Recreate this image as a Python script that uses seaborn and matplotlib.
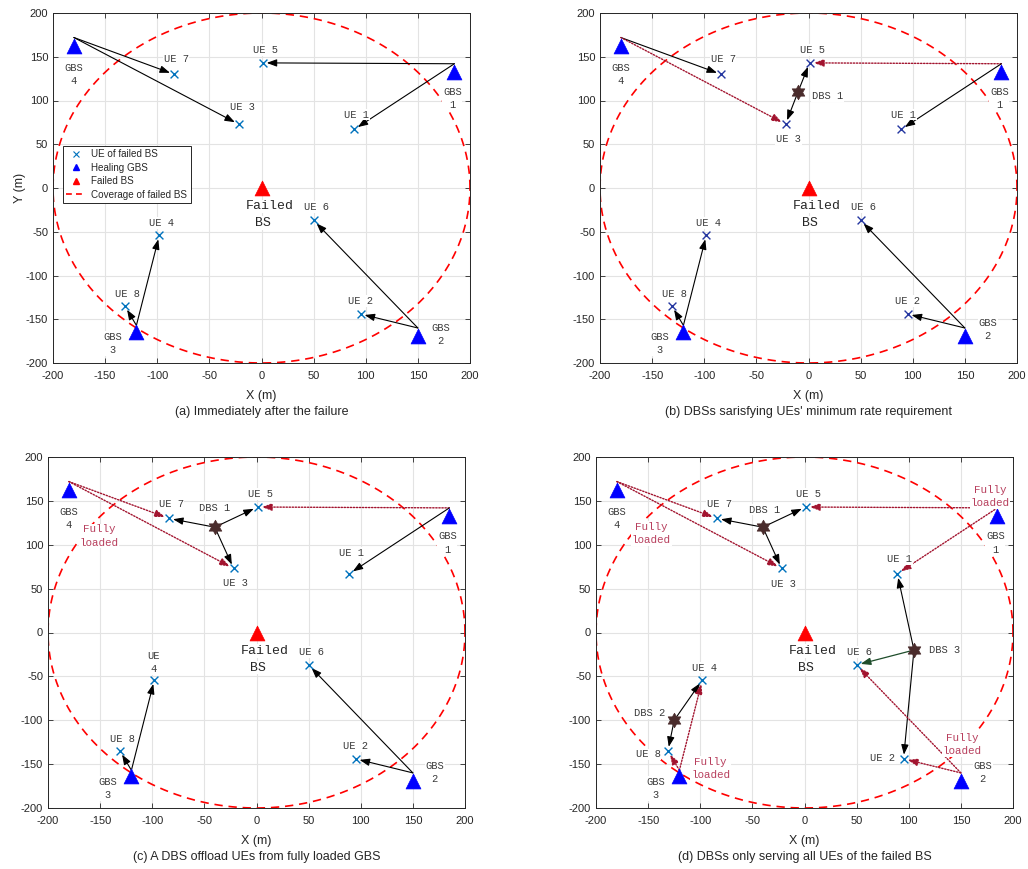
import numpy as np
import pandas as pd
import matplotlib
matplotlib.use("Agg")
import matplotlib.pyplot as plt
from matplotlib.path import Path
from matplotlib.lines import Line2D
import seaborn as sns

# ---------------- network layout (metres) ----------------
ue_names = ["UE 1", "UE 2", "UE 3", "UE 4", "UE 5", "UE 6", "UE 7", "UE 8"]
ue_x = [89, 95, -22, -98, 1, 50, -84, -131]
ue_y = [67, -144, 73, -54, 143, -37, 130, -135]

gbs_names = ["GBS 1", "GBS 2", "GBS 3", "GBS 4"]
gbs_x = [185, 150, -120, -180]
gbs_y = [133, -169, -164, 162]
# antenna points that the GBS links leave from
gbs_feed_x = [185, 150, -120, -180]
gbs_feed_y = [142, -160, -157, 172]

failed_bs_x = [0]
failed_bs_y = [0]
coverage_radius = 200

dbs_names = ["DBS 1", "DBS 2", "DBS 3"]
# DBS placement when only rate requirements are served (panel b)
dbs_x_rate = [-10]
dbs_y_rate = [110]
# DBS placement after offloading (panels c and d)
dbs_x_offload = [-40, -125, 105]
dbs_y_offload = [120, -100, -20]

# links: (source, target, kind)  kind: s = serving, d = overloaded GBS, g = DBS link
links_a = [("GBS 4", "UE 7", "s"), ("GBS 4", "UE 3", "s"), ("GBS 1", "UE 5", "s"),
           ("GBS 1", "UE 1", "s"), ("GBS 2", "UE 6", "s"), ("GBS 2", "UE 2", "s"),
           ("GBS 3", "UE 4", "s"), ("GBS 3", "UE 8", "s")]
links_b = [("GBS 4", "UE 7", "s"), ("GBS 4", "UE 3", "d"), ("GBS 1", "UE 5", "d"),
           ("GBS 1", "UE 1", "s"), ("DBS 1", "UE 5", "s"), ("DBS 1", "UE 3", "s"),
           ("GBS 2", "UE 6", "s"), ("GBS 2", "UE 2", "s"),
           ("GBS 3", "UE 4", "s"), ("GBS 3", "UE 8", "s")]
links_c = [("GBS 4", "UE 7", "d"), ("GBS 4", "UE 3", "d"), ("GBS 1", "UE 5", "d"),
           ("GBS 1", "UE 1", "s"), ("DBS 1", "UE 7", "s"), ("DBS 1", "UE 5", "s"),
           ("DBS 1", "UE 3", "s"), ("GBS 2", "UE 6", "s"), ("GBS 2", "UE 2", "s"),
           ("GBS 3", "UE 4", "s"), ("GBS 3", "UE 8", "s")]
links_d = [("GBS 4", "UE 7", "d"), ("GBS 4", "UE 3", "d"), ("GBS 1", "UE 5", "d"),
           ("GBS 1", "UE 1", "d"), ("DBS 1", "UE 7", "s"), ("DBS 1", "UE 5", "s"),
           ("DBS 1", "UE 3", "s"), ("DBS 3", "UE 1", "s"), ("DBS 3", "UE 6", "g"),
           ("DBS 3", "UE 2", "s"), ("GBS 2", "UE 6", "d"), ("GBS 2", "UE 2", "d"),
           ("DBS 2", "UE 4", "s"), ("DBS 2", "UE 8", "s"),
           ("GBS 3", "UE 4", "d"), ("GBS 3", "UE 8", "d")]

captions = ["(a) Immediately after the failure",
            "(b) DBSs sarisfying UEs' minimum rate requirement",
            "(c) A DBS offload UEs from fully loaded GBS",
            "(d) DBSs only serving all UEs of the failed BS"]

fully_loaded_c = ["GBS 4"]
fully_loaded_d = ["GBS 4", "GBS 1", "GBS 2", "GBS 3"]

legend_labels = ["UE of failed BS", "Healing GBS", "Failed BS", "Coverage of failed BS"]

# ---------------- annotation placement ----------------
label_pos = {
    "UE 1": (91, 84), "UE 2": (95, -129), "UE 3": (-18, 92), "UE 4": (-96, -40),
    "UE 5": (4, 158), "UE 6": (53, -22), "UE 7": (-82, 147), "UE 8": (-129, -121),
    "GBS 1": (183, 102), "GBS 2": (172, -162), "GBS 3": (-143, -178), "GBS 4": (-180, 130),
}
label_override = [
    {"GBS 2": (172, -167)},
    {"UE 3": (-19, 56), "DBS 1": (18, 105)},
    {"UE 3": (-20, 56), "UE 1": (91, 91), "UE 4": (-99, -34), "DBS 1": (-40, 142),
     "GBS 2": (171, -160)},
    {"UE 3": (-20, 55), "UE 8": (-150, -139), "UE 2": (75, -143), "DBS 1": (-38, 140),
     "DBS 2": (-149, -92), "DBS 3": (134, -20), "GBS 2": (171, -160)},
]
label_text_override = [{}, {}, {"UE 4": "UE\n4"}, {}]
fully_pos = {"c": {"GBS 4": (-151, 110)},
             "d": {"GBS 4": (-147, 113), "GBS 1": (178, 155),
                   "GBS 2": (151, -128), "GBS 3": (-90, -155)}}

# ---------------- style ----------------
sns.set_theme(style="ticks")
plt.rcParams["font.family"] = ["Liberation Sans", "DejaVu Sans"]
plt.rcParams["axes.unicode_minus"] = False

UE_BLUE = "#0072BD"
UE_NAVY = "#2436A0"
LINK_RED = "#A2142F"
LINK_GREEN = "#1E4D2B"
DBS_BROWN = "#4A2C2C"
FULL_RED = "#B8405E"
TEXT_GREY = "#3A3A3A"
AX_GREY = "#262626"
MONO = ["Liberation Mono", "DejaVu Sans Mono"]

ang = np.pi / 2 + np.arange(12) * np.pi / 6
rad = np.where(np.arange(12) % 2 == 0, 1.0, 1 / np.sqrt(3))
star_verts = np.column_stack([rad * np.cos(ang), rad * np.sin(ang)])
hexagram = Path(np.vstack([star_verts, star_verts[:1]]), closed=True)

fig = plt.figure(figsize=(10.28, 8.69), dpi=100)
W, H = 1028, 869
boxes = [(53, 13, 470, 363), (600, 13, 1017, 363), (48, 457, 465, 808), (596, 457, 1013, 808)]
axes = [fig.add_axes([l / W, 1 - b / H, (r - l) / W, (b - t) / H]) for (l, t, r, b) in boxes]

panel_links = [links_a, links_b, links_c, links_d]
panel_dbs = [([], []), (dbs_x_rate, dbs_y_rate),
             (dbs_x_offload[:1], dbs_y_offload[:1]), (dbs_x_offload, dbs_y_offload)]
panel_ue_color = [UE_BLUE, UE_NAVY, UE_BLUE, UE_BLUE]
panel_fully = [[], [], fully_loaded_c, fully_loaded_d]
panel_fully_pos = [{}, {}, fully_pos["c"], fully_pos["d"]]

ue_df = pd.DataFrame({"name": ue_names, "x": ue_x, "y": ue_y})
gbs_df = pd.DataFrame({"name": gbs_names, "x": gbs_x, "y": gbs_y})
fail_df = pd.DataFrame({"x": failed_bs_x, "y": failed_bs_y})

theta = np.linspace(0, 2 * np.pi, 400)


def put_label(ax, txt, pos, color=TEXT_GREY, size=7.5):
    ax.text(pos[0], pos[1], txt, ha="center", va="center", family=MONO, size=size,
            color=color, linespacing=1.4, zorder=7,
            bbox=dict(facecolor="white", edgecolor="none", pad=0.6))


for i, ax in enumerate(axes):
    dbx, dby = panel_dbs[i]
    dbs_df = pd.DataFrame({"name": dbs_names[:len(dbx)], "x": dbx, "y": dby})

    # node lookup for the links
    src = {n: (x, y) for n, x, y in zip(gbs_names, gbs_feed_x, gbs_feed_y)}
    src.update({n: (x, y) for n, x, y in zip(dbs_df["name"], dbs_df["x"], dbs_df["y"])})
    dst = {n: (x, y) for n, x, y in zip(ue_names, ue_x, ue_y)}

    # coverage of the failed BS
    ax.plot(failed_bs_x[0] + coverage_radius * np.cos(theta),
            failed_bs_y[0] + coverage_radius * np.sin(theta),
            color="#FF0000", lw=1.2, ls=(0, (5, 3.5)), zorder=2)

    for s, t, kind in panel_links[i]:
        if kind == "d":
            col, ls, lw = LINK_RED, (0, (1, 1.2)), 1.0
        elif kind == "g":
            col, ls, lw = LINK_GREEN, "-", 0.9
        else:
            col, ls, lw = "black", "-", 0.8
        ax.annotate("", xy=dst[t], xytext=src[s], zorder=3,
                    arrowprops=dict(arrowstyle="-|>,head_length=0.6,head_width=0.22",
                                    mutation_scale=10, color=col, lw=lw, ls=ls,
                                    shrinkA=3 if s.startswith("DBS") else 0, shrinkB=3))

    sns.scatterplot(data=gbs_df, x="x", y="y", marker="^", s=115, color="#0000FF",
                    edgecolor="#0000FF", linewidth=0.5, ax=ax, zorder=5, legend=False)
    sns.scatterplot(data=fail_df, x="x", y="y", marker="^", s=115, color="#FF0000",
                    edgecolor="#FF0000", linewidth=0.5, ax=ax, zorder=5, legend=False)
    sns.scatterplot(data=ue_df, x="x", y="y", marker="x", s=32, color=panel_ue_color[i],
                    linewidth=1.0, ax=ax, zorder=6, legend=False)
    if len(dbs_df):
        sns.scatterplot(data=dbs_df, x="x", y="y", marker=hexagram, s=110, color=DBS_BROWN,
                        edgecolor=DBS_BROWN, linewidth=0.5, ax=ax, zorder=6, legend=False)

    # text labels
    pos = dict(label_pos)
    pos.update(label_override[i])
    for n in ue_names:
        put_label(ax, label_text_override[i].get(n, n), pos[n])
    for n in gbs_names:
        put_label(ax, n.replace(" ", "\n"), pos[n])
    for n in dbs_df["name"]:
        put_label(ax, n, pos[n])
    for n in panel_fully[i]:
        put_label(ax, "Fully\nloaded", panel_fully_pos[i][n], color=FULL_RED, size=7.8)
    ax.text(8, -21, "Failed", ha="center", va="center", family=MONO, size=9.5,
            color=AX_GREY, zorder=7, bbox=dict(facecolor="white", edgecolor="none", pad=0.5))
    ax.text(1, -40, "BS", ha="center", va="center", family=MONO, size=9.5,
            color=AX_GREY, zorder=7, bbox=dict(facecolor="white", edgecolor="none", pad=0.5))

    # axes frame
    ax.set_xlim(-200, 200)
    ax.set_ylim(-200, 200)
    ticks = np.arange(-200, 201, 50)
    ax.set_xticks(ticks)
    ax.set_yticks(ticks)
    ax.grid(True, color="#E3E3E3", lw=0.8)
    ax.set_axisbelow(True)
    ax.tick_params(direction="in", length=3.5, width=0.6, top=True, right=True,
                   labelsize=8, colors=AX_GREY)
    ax.tick_params(axis="x", pad=5.5)
    ax.tick_params(axis="y", pad=3.5)
    for sp in ax.spines.values():
        sp.set_visible(True)
        sp.set_color(AX_GREY)
        sp.set_linewidth(0.7)
    ax.set_xlabel("X (m)", fontsize=9, color=AX_GREY, labelpad=7)
    ax.set_ylabel("Y (m)" if i == 0 else "", fontsize=9, color=AX_GREY, labelpad=0)

    l, t, r, b = boxes[i]
    cap_y = 412 if i < 2 else 857
    fig.text((l + r) / 2 / W, 1 - cap_y / H, captions[i], ha="center", va="center",
             fontsize=9, color=AX_GREY)

# legend for the first panel
handles = [Line2D([], [], ls="none", marker="x", color=UE_BLUE, ms=4, mew=0.8),
           Line2D([], [], ls="none", marker="^", color="#0000FF", ms=5),
           Line2D([], [], ls="none", marker="^", color="#FF0000", ms=5),
           Line2D([], [], color="#FF0000", lw=1.2, ls=(0, (3.5, 2.5)))]
leg = axes[0].legend(handles, legend_labels, loc="upper left", bbox_to_anchor=(0.024, 0.62),
                     borderaxespad=0, fontsize=7.1, labelspacing=0.35, handlelength=1.9,
                     handletextpad=0.6, borderpad=0.35, fancybox=False, framealpha=1)
leg.get_frame().set_edgecolor(AX_GREY)
leg.get_frame().set_linewidth(0.7)
leg.set_zorder(10)

fig.savefig("out.png", dpi=100)
